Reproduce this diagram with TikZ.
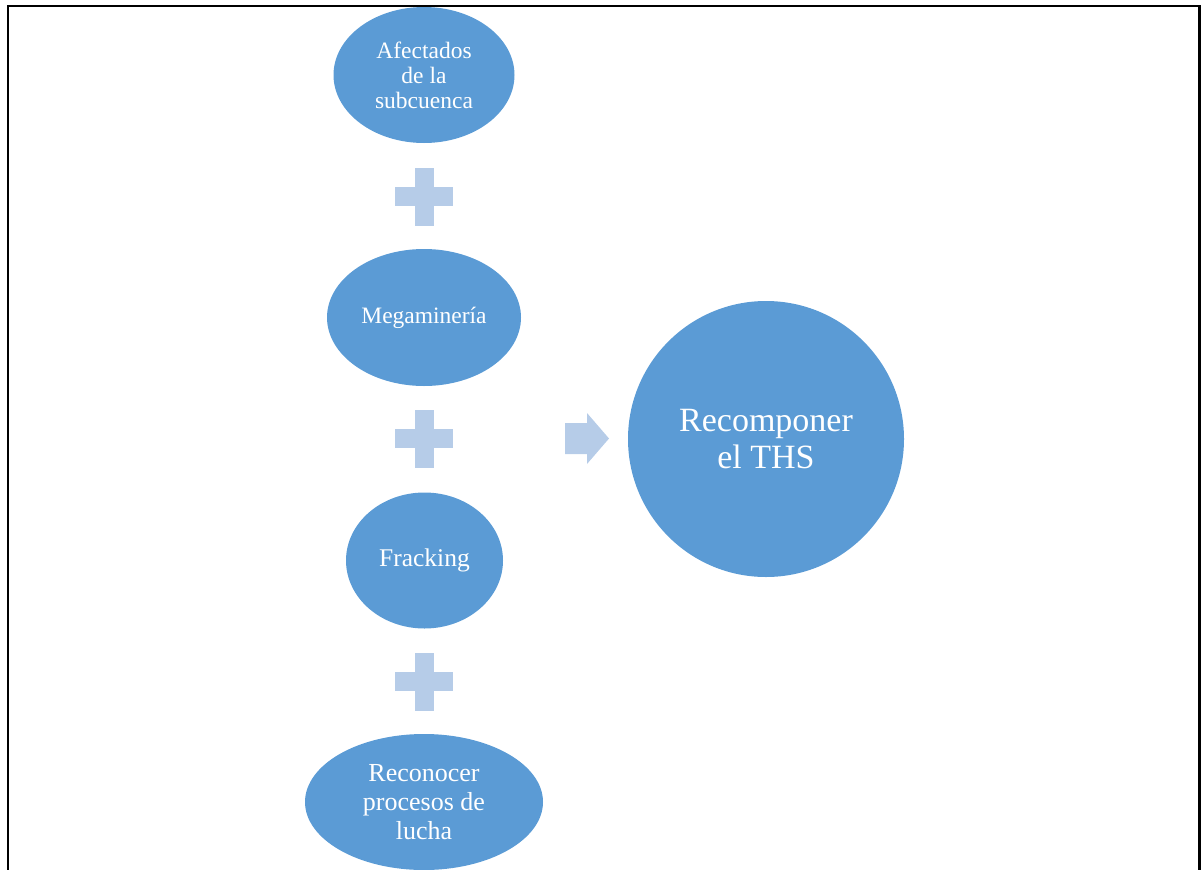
\documentclass[tikz,border=0pt]{standalone}
\usepackage{fontspec}
\setmainfont{Liberation Serif}
\usetikzlibrary{shapes.geometric}
\definecolor{bubble}{HTML}{5B9BD5}
\definecolor{lightsym}{HTML}{B6CCE8}
\tikzset{
  bubble/.style={ellipse, fill=bubble, draw=none, text=white, inner sep=0pt,
    align=center},
  plussign/.pic={
    \fill[lightsym] (-9.5,-29) rectangle (9.5,29);
    \fill[lightsym] (-29,-9.5) rectangle (29,9.5);
  }
}
\begin{document}
\begin{tikzpicture}[x=1pt,y=-1pt]
  \useasboundingbox (0,0) rectangle (1202,870);
  % page frame (open at the bottom)
  \draw[line width=2.6pt] (8,872) -- (8,6) -- (1199.5,6) -- (1199.5,872);

  % left column of ellipses
  \node[bubble, minimum width=181pt, minimum height=136pt,
    font=\fontsize{23.5}{25}\selectfont] (afect) at (424,75)
    {Afectados\\de la\\subcuenca};
  \node[bubble, minimum width=194pt, minimum height=137pt,
    font=\fontsize{23.5}{25}\selectfont] (mega) at (424,317.5) {Megaminería};
  \node[bubble, minimum width=157pt, minimum height=136pt,
    font=\fontsize{25.5}{28}\selectfont] (frack) at (424.5,560.5) {Fracking};
  \node[bubble, minimum width=238pt, minimum height=136pt,
    font=\fontsize{26}{29}\selectfont] (recon) at (424,802)
    {Reconocer\\procesos de\\lucha};

  % result circle
  \node[bubble, circle, minimum size=276pt,
    font=\fontsize{34}{37}\selectfont] (ths) at (766,439)
    {Recomponer\\el THS};

  % plus signs between the ellipses
  \pic at (424,196.5) {plussign};
  \pic at (424,438.5) {plussign};
  \pic at (424,681.5) {plussign};

  % arrow towards the result
  \fill[lightsym] (565,423) -- (587,423) -- (587,413) -- (609,438.5)
    -- (587,464) -- (587,454) -- (565,454) -- cycle;
\end{tikzpicture}
\end{document}
